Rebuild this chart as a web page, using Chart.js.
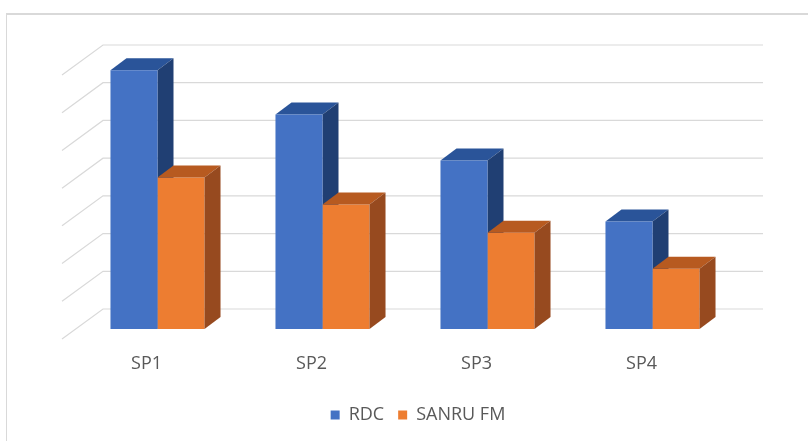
<!DOCTYPE html>
<html>
<head>
<meta charset="utf-8">
<script src="https://cdn.jsdelivr.net/npm/chart.js@4.4.1/dist/chart.umd.min.js"></script>
<style>
    html, body { margin: 0; padding: 0; background: #fff; }
    #wrap { position: relative; width: 808px; height: 441px; overflow: hidden; }
    #frame { position: absolute; left: 6px; top: 13px; width: 840px; height: 480px; border-top: 2px solid #d9d9d9; border-left: 1px solid #d9d9d9; }
    canvas { position: absolute; left: 0; top: 0; }
</style>
</head>
<body>
<div id="wrap">
    <div id="frame"></div>
    <canvas id="chart" width="808" height="441"></canvas>
</div>
<script>
const categories = ['SP1', 'SP2', 'SP3', 'SP4'];
const rdcValues = [6.86, 5.69, 4.47, 2.85];
const sanruValues = [4.02, 3.30, 2.55, 1.60];
const yMin = 0;
const yMax = 7;

// couleurs : face avant, dessus, côté
const faces = [
    { front: '#4472C4', top: '#2A5499', side: '#203F73' },
    { front: '#ED7D31', top: '#B75A20', side: '#974A1F' }
];

const depthX = 16, depthY = -12;   // profondeur des barres
const wallX = 28, wallY = -20;     // décalage du mur du fond

function drawBox(ctx, bar, c) {
    const p = bar.getProps(['x', 'y', 'base', 'width'], true);
    const l = p.x - p.width / 2, r = p.x + p.width / 2;
    ctx.fillStyle = c.top;
    ctx.beginPath();
    ctx.moveTo(l, p.y);
    ctx.lineTo(r, p.y);
    ctx.lineTo(r + depthX, p.y + depthY);
    ctx.lineTo(l + depthX, p.y + depthY);
    ctx.closePath();
    ctx.fill();
    ctx.fillStyle = c.side;
    ctx.beginPath();
    ctx.moveTo(r, p.y);
    ctx.lineTo(r + depthX, p.y + depthY);
    ctx.lineTo(r + depthX, p.base + depthY);
    ctx.lineTo(r, p.base);
    ctx.closePath();
    ctx.fill();
}

const bars3d = {
    id: 'bars3d',
    afterLayout(chart) {
        // légende un peu décalée vers la droite comme dans Excel
        chart.legend.left += 13;
        chart.legend.right += 13;
    },
    beforeDatasetsDraw(chart) {
        const ctx = chart.ctx;
        const area = chart.chartArea;
        const y = chart.scales.y;
        ctx.save();
        ctx.strokeStyle = '#d9d9d9';
        ctx.lineWidth = 1.2;
        y.ticks.forEach(t => {
            const py = y.getPixelForValue(t.value);
            ctx.beginPath();
            ctx.moveTo(area.left - 13, py + 10);
            ctx.lineTo(area.left + wallX, py + wallY);
            ctx.lineTo(area.right + wallX, py + wallY);
            ctx.stroke();
        });
        chart.getDatasetMeta(0).data.forEach(b => drawBox(ctx, b, faces[0]));
        ctx.restore();
    },
    afterDatasetsDraw(chart) {
        const ctx = chart.ctx;
        ctx.save();
        chart.getDatasetMeta(1).data.forEach(b => drawBox(ctx, b, faces[1]));
        ctx.restore();
    }
};

new Chart(document.getElementById('chart'), {
    type: 'bar',
    data: {
        labels: categories,
        datasets: [
            { label: 'RDC', data: rdcValues, backgroundColor: faces[0].front },
            { label: 'SANRU FM', data: sanruValues, backgroundColor: faces[1].front }
        ]
    },
    options: {
        responsive: false,
        animation: false,
        events: [],
        categoryPercentage: 0.57,
        barPercentage: 1,
        layout: { padding: { left: 75, right: 73, top: 65, bottom: 7 } },
        scales: {
            x: {
                grid: { display: false, drawTicks: false },
                border: { display: false },
                ticks: {
                    color: '#595959',
                    font: { family: 'Open Sans', size: 18 },
                    padding: 24,
                    labelOffset: -11
                },
                afterFit(scale) { scale.height = 63; }
            },
            y: {
                display: false,
                min: yMin,
                max: yMax,
                ticks: { stepSize: 1 }
            }
        },
        plugins: {
            legend: {
                position: 'bottom',
                labels: {
                    color: '#595959',
                    font: { family: 'Open Sans', size: 18 },
                    boxWidth: 9,
                    boxHeight: 9,
                    padding: 14
                }
            },
            tooltip: { enabled: false }
        }
    },
    plugins: [bars3d]
});
</script>
</body>
</html>
